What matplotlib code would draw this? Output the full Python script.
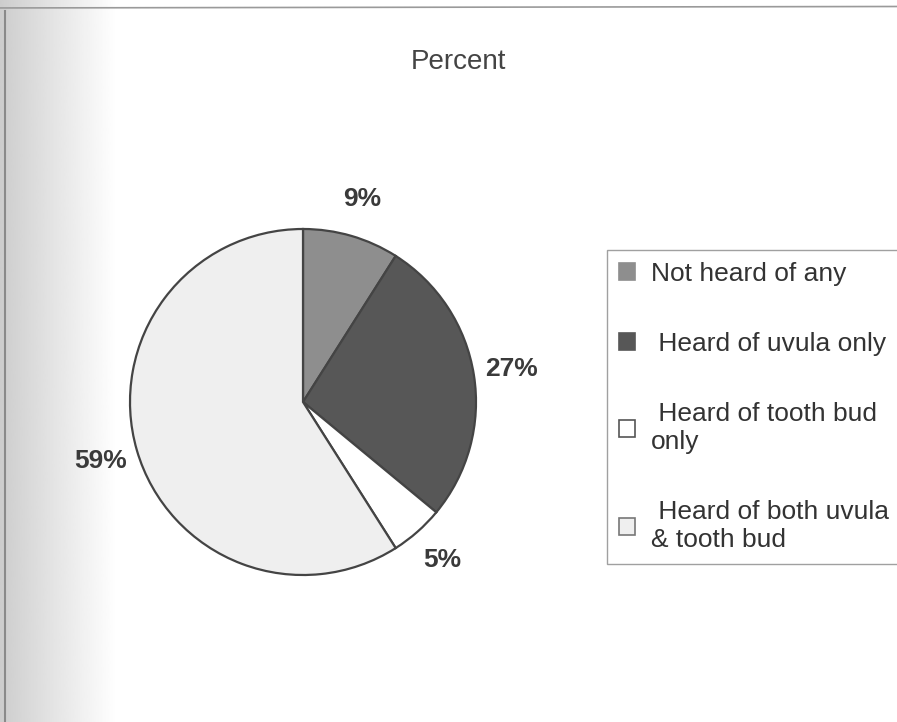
import numpy as np
import matplotlib
matplotlib.use("Agg")
import matplotlib.pyplot as plt
from matplotlib.patches import Patch

plt.rcParams['font.family'] = ['Liberation Sans', 'DejaVu Sans']

# data
categories = ['Not heard of any', ' Heard of uvula only',
              ' Heard of tooth bud\nonly', ' Heard of both uvula\n& tooth bud']
percent = [9, 27, 5, 59]
slice_colors = ['#8e8e8e', '#575757', '#ffffff', '#efefef']
legend_edges = ['#8e8e8e', '#575757', '#555555', '#777777']


def add_scan_background(fig):
    # grey shading on the left edge of the scanned page
    bg = fig.add_axes([0, 0, 0.13, 1], zorder=-5)
    grad = np.linspace(0.76, 1.0, 256) ** 0.8
    bg.imshow(grad[np.newaxis, :], aspect='auto', cmap='gray', vmin=0, vmax=1,
              extent=[0, 1, 0, 1])
    bg.axis('off')
    fig.add_artist(plt.Line2D([0.0, 1.0], [0.989, 0.991], color='#9a9a9a',
                              linewidth=1.2, transform=fig.transFigure))
    fig.add_artist(plt.Line2D([0.006, 0.006], [0.0, 0.985], color='#8a8a8a',
                              linewidth=1.5, transform=fig.transFigure))


def plot_pie(fig):
    ax = fig.add_axes([130 / 897, 147 / 722, 346 / 897, 346 / 722])
    wedges, texts, autotexts = ax.pie(
        percent, colors=slice_colors, startangle=90, counterclock=False,
        autopct='%1.0f%%', pctdistance=1.22,
        wedgeprops=dict(edgecolor='#444444', linewidth=1.6),
        textprops=dict(fontsize=19, fontweight='bold', color='#3a3a3a'))
    ax.set_xlim(-1, 1)
    ax.set_ylim(-1, 1)
    ax.set_aspect('equal')
    return ax


def plot_legend(fig):
    handles = [Patch(facecolor=c, edgecolor=e, linewidth=1.2)
               for c, e in zip(slice_colors, legend_edges)]
    leg = fig.legend(handles, categories, loc='upper left',
                     bbox_to_anchor=(607 / 897, 1 - 250 / 722),
                     fontsize=19, frameon=True, fancybox=False,
                     edgecolor='#888888', handlelength=0.6, handleheight=0.6,
                     handletextpad=0.6, labelspacing=1.75, borderpad=0.45,
                     borderaxespad=0)
    leg.get_frame().set_linewidth(1.0)
    for t in leg.get_texts():
        t.set_color('#333333')
    return leg


def main():
    fig = plt.figure(figsize=(8.97, 7.22), dpi=100)
    fig.patch.set_facecolor('white')
    add_scan_background(fig)
    plot_pie(fig)
    plot_legend(fig)
    fig.text(458 / 897, 1 - 62 / 722, 'Percent', ha='center', va='center',
             fontsize=20, color='#444444')
    fig.savefig('out.png', dpi=100)


if __name__ == "__main__":
    main()
